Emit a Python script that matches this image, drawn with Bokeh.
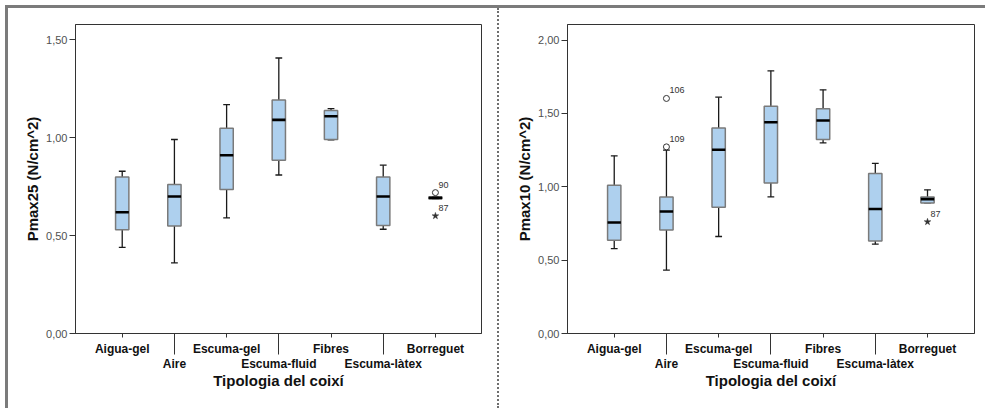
from bokeh.plotting import figure
from bokeh.models import Range1d, LinearAxis, FixedTicker, CustomJSTickFormatter, ColumnDataSource, Div
from bokeh.layouts import row
from bokeh.core.properties import value
from bokeh.embed import file_html
from bokeh.resources import INLINE

# ---------------- data ----------------
categories = ["Aigua-gel", "Aire", "Escuma-gel", "Escuma-fluid", "Fibres", "Escuma-làtex", "Borreguet"]
x_title = "Tipologia del coixí"

# Pmax25 (N/cm^2)
p25_lower = [0.440, 0.360, 0.590, 0.809, 0.988, 0.532, 0.688]
p25_q1 = [0.529, 0.549, 0.735, 0.884, 0.990, 0.551, 0.688]
p25_median = [0.619, 0.699, 0.910, 1.090, 1.109, 0.699, 0.692]
p25_q3 = [0.799, 0.760, 1.047, 1.192, 1.138, 0.799, 0.697]
p25_upper = [0.828, 0.990, 1.168, 1.406, 1.148, 0.859, 0.697]
p25_out_cat = ["Borreguet", "Borreguet"]
p25_out_val = [0.719, 0.600]
p25_out_lbl = ["90", "87"]
p25_out_kind = ["circle", "star"]
p25_ticks = [0.0, 0.5, 1.0, 1.5]

# Pmax10 (N/cm^2)
p10_lower = [0.579, 0.432, 0.661, 0.931, 1.299, 0.609, 0.890]
p10_q1 = [0.636, 0.706, 0.861, 1.025, 1.322, 0.631, 0.890]
p10_median = [0.757, 0.832, 1.252, 1.440, 1.452, 0.849, 0.916]
p10_q3 = [1.011, 0.931, 1.400, 1.549, 1.531, 1.091, 0.931]
p10_upper = [1.211, 1.250, 1.611, 1.790, 1.661, 1.159, 0.979]
p10_out_cat = ["Aire", "Aire", "Borreguet"]
p10_out_val = [1.602, 1.272, 0.761]
p10_out_lbl = ["106", "109", "87"]
p10_out_kind = ["circle", "circle", "star"]
p10_ticks = [0.0, 0.5, 1.0, 1.5, 2.0]

BOX_W = 0.255
CAP_W = 0.13
FONT = "Liberation Sans"


def make_fig(ylabel, y_end, yticks, lower, q1, med, q3, upper,
             out_cat, out_val, out_lbl, out_kind, x_end, min_left, min_right, frame_w):
    xs = list(range(len(categories)))
    src = ColumnDataSource(dict(
        x=xs, lower=lower, q1=q1, med=med, q3=q3, upper=upper,
        bl=[x - BOX_W / 2 for x in xs], br=[x + BOX_W / 2 for x in xs],
        cl=[x - CAP_W / 2 for x in xs], cr=[x + CAP_W / 2 for x in xs],
    ))
    p = figure(output_backend="svg", toolbar_location=None,
               x_range=Range1d(-0.895, x_end), y_range=Range1d(0, y_end),
               frame_width=frame_w, frame_height=309,
               min_border_left=min_left, min_border_right=min_right,
               min_border_top=16, min_border_bottom=75,
               x_axis_type=None)
    p.grid.visible = False
    p.outline_line_color = "#333333"
    p.outline_line_width = 1
    p.background_fill_color = "white"
    p.border_fill_color = "white"

    # whiskers
    wk = dict(line_color="#1a1a1a", line_width=1.3)
    p.segment(x0="x", y0="q3", x1="x", y1="upper", source=src, **wk)
    p.segment(x0="x", y0="lower", x1="x", y1="q1", source=src, **wk)
    p.segment(x0="cl", y0="upper", x1="cr", y1="upper", source=src, **wk)
    p.segment(x0="cl", y0="lower", x1="cr", y1="lower", source=src, **wk)
    # boxes
    p.vbar(x="x", width=BOX_W, bottom="q1", top="q3", source=src,
           fill_color="#aed0ee", line_color="#7a7a7a", line_width=1.5)
    # medians
    p.segment(x0="bl", y0="med", x1="br", y1="med", source=src,
              line_color="black", line_width=2.6)

    # outliers
    idx = {c: i for i, c in enumerate(categories)}
    ox = [idx[c] for c in out_cat]
    circ = ColumnDataSource(dict(
        x=[x for x, k in zip(ox, out_kind) if k == "circle"],
        y=[v for v, k in zip(out_val, out_kind) if k == "circle"]))
    star = ColumnDataSource(dict(
        x=[x for x, k in zip(ox, out_kind) if k == "star"],
        y=[v for v, k in zip(out_val, out_kind) if k == "star"]))
    p.scatter(x="x", y="y", source=circ, marker="circle", size=6,
              fill_color="white", line_color="#333333", line_width=1)
    p.scatter(x="x", y="y", source=star, marker="star", size=7,
              fill_color="#333333", line_color="#333333", line_width=0.5)
    lbl = ColumnDataSource(dict(x=ox, y=out_val, t=out_lbl))
    p.text(x="x", y="y", text="t", source=lbl, x_offset=3, y_offset=-8,
           text_font=value(FONT), text_font_size="9px", text_color="#333333",
           text_align="left", text_baseline="middle")

    # y axis
    ya = p.yaxis[0]
    ya.ticker = FixedTicker(ticks=yticks)
    ya.formatter = CustomJSTickFormatter(code="return tick.toFixed(2).replace('.', ',');")
    ya.major_label_text_font = FONT
    ya.major_label_text_font_size = "11px"
    ya.major_label_text_color = "#505050"
    ya.major_tick_out = 6
    ya.major_tick_in = 0
    ya.minor_tick_line_color = None
    ya.axis_line_color = "#333333"
    ya.major_tick_line_color = "#333333"
    ya.major_label_standoff = 2
    ya.axis_label = ylabel
    ya.axis_label_text_font = FONT
    ya.axis_label_text_font_size = "15px"
    ya.axis_label_text_font_style = "bold"
    ya.axis_label_text_color = "#111111"
    ya.axis_label_standoff = 2

    # x axes: staggered category labels
    even_fmt = CustomJSTickFormatter(args=dict(labels=categories),
                                     code="const i = Math.round(tick); return (i % 2 === 0) ? labels[i] : '';")
    odd_fmt = CustomJSTickFormatter(args=dict(labels=categories),
                                    code="const i = Math.round(tick); return (i % 2 === 1) ? labels[i] : '';")
    ax1 = LinearAxis(ticker=FixedTicker(ticks=xs), formatter=even_fmt,
                     major_tick_out=4, major_tick_in=0, minor_tick_line_color=None,
                     axis_line_color="#333333", major_tick_line_color="#333333",
                     major_label_text_font=FONT, major_label_text_font_size="12px",
                     major_label_text_font_style="bold", major_label_text_color="#111111",
                     major_label_standoff=4)
    ax2 = LinearAxis(ticker=FixedTicker(ticks=[x for x in xs if x % 2 == 1]), formatter=odd_fmt,
                     major_tick_out=-4, major_tick_in=24, minor_tick_line_color=None,
                     axis_line_color=None, major_tick_line_color="#333333",
                     major_label_text_font=FONT, major_label_text_font_size="12px",
                     major_label_text_font_style="bold", major_label_text_color="#111111",
                     major_label_standoff=-2,
                     axis_label=x_title, axis_label_text_font=FONT,
                     axis_label_text_font_size="15px", axis_label_text_font_style="bold",
                     axis_label_text_color="#111111", axis_label_standoff=-2)
    p.add_layout(ax1, "below")
    p.add_layout(ax2, "below")
    return p


p1 = make_fig("Pmax25 (N/cm^2)", 1.577, p25_ticks, p25_lower, p25_q1, p25_median, p25_q3, p25_upper,
              p25_out_cat, p25_out_val, p25_out_lbl, p25_out_kind,
              x_end=6.883, min_left=67, min_right=16, frame_w=406)
p2 = make_fig("Pmax10 (N/cm^2)", 2.106, p10_ticks, p10_lower, p10_q1, p10_median, p10_q3, p10_upper,
              p10_out_cat, p10_out_val, p10_out_lbl, p10_out_kind,
              x_end=6.90, min_left=68, min_right=11, frame_w=407)

sep = Div(text="", width=0, height=400, margin=(0, 0, 0, 0),
          styles={"border-left": "2px dotted #6e6e6e"})

layout = row(p1, sep, p2, styles={"margin-top": "5px", "margin-left": "5px",
                                  "border-top": "3px solid #7b7b7b",
                                  "border-left": "3px solid #7b7b7b"})

open("out.html", "w").write(file_html(layout, INLINE))
